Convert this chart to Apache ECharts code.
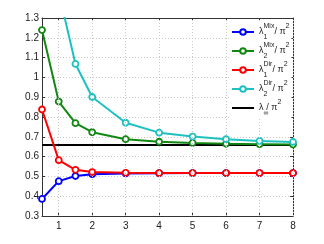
<!DOCTYPE html>
<html><head><meta charset="utf-8">
<script src="https://cdn.jsdelivr.net/npm/echarts@6/dist/echarts.min.js"></script>
<style>html,body{margin:0;padding:0;background:#fff}#c{width:324px;height:244px}</style>
</head><body><div id="c"></div>
<script>
var xValues = [0.5, 1, 1.5, 2, 3, 4, 5, 6, 7, 8];
var lambda1Mix = [0.386, 0.476, 0.502, 0.511, 0.515, 0.516, 0.517, 0.517, 0.517, 0.517];
var lambda2Mix = [1.239, 0.878, 0.769, 0.723, 0.688, 0.675, 0.669, 0.665, 0.663, 0.661];
var lambda1Dir = [0.838, 0.582, 0.533, 0.522, 0.518, 0.517, 0.517, 0.517, 0.517, 0.517];
var lambda2Dir = [2.2, 1.43, 1.068, 0.901, 0.771, 0.721, 0.701, 0.688, 0.679, 0.674];
var lambdaInf = 0.659;
var xTicks = [1, 2, 3, 4, 5, 6, 7, 8];
var seriesNames = ['l1mix', 'l2mix', 'l1dir', 'l2dir', 'linf'];
var legendLabels = {
  l1mix: ['1', 'Mix'],
  l2mix: ['2', 'Mix'],
  l1dir: ['1', 'Dir'],
  l2dir: ['2', 'Dir'],
  linf: ['\u221e', '']
};
var colors = ['#0000ff', '#118811', '#ff0000', '#1fc0c0', '#000000'];

function pairs(ys) { return xValues.map(function (x, i) { return [x, ys[i]]; }); }

var font = 'Liberation Sans';
var chart = echarts.init(document.getElementById('c'), null, {renderer: 'canvas'});
function lineSeries(name, ys, color) {
  return {
    name: name, type: 'line', data: pairs(ys), clip: true,
    symbol: 'circle', symbolSize: 6,
    itemStyle: {color: '#fff', borderColor: color, borderWidth: 1.8},
    lineStyle: {color: color, width: 2},
    color: color, animation: false, z: 3
  };
}
var series = [
  lineSeries('l1mix', lambda1Mix, colors[0]),
  lineSeries('l2mix', lambda2Mix, colors[1]),
  lineSeries('l1dir', lambda1Dir, colors[2]),
  lineSeries('l2dir', lambda2Dir, colors[3]),
  {
    name: 'linf', type: 'line', data: [[0.5, lambdaInf], [8, lambdaInf]],
    symbol: 'none', lineStyle: {color: '#000', width: 2}, color: '#000', animation: false, z: 2,
    markLine: {
      silent: true, symbol: 'none', label: {show: false}, animation: false,
      lineStyle: {color: '#c8c8c8', type: [1, 2], width: 1},
      data: xTicks.map(function (v) { return {xAxis: v}; })
    }
  }
];
var axisLine = {show: true, lineStyle: {color: '#333', width: 1}};
var legendData = seriesNames.map(function (n) {
  return n === 'linf' ? {name: n, itemStyle: {opacity: 0}} : {name: n};
});
chart.setOption({
  animation: false,
  grid: {left: 42, right: 31, top: 18, bottom: 28, containLabel: false},
  xAxis: [{
    type: 'value', min: 0.5, max: 8, position: 'bottom',
    axisLine: axisLine,
    axisTick: {show: true, inside: true, length: 3, lineStyle: {color: '#333'}, customValues: xTicks},
    axisLabel: {customValues: xTicks, fontFamily: font, fontSize: 10, color: '#222', margin: 5},
    splitLine: {show: false}
  }, {
    type: 'value', min: 0.5, max: 8, position: 'top',
    axisLine: axisLine,
    axisTick: {show: true, inside: true, length: 3, lineStyle: {color: '#333'}, customValues: xTicks},
    axisLabel: {show: false, customValues: xTicks},
    splitLine: {show: false}
  }],
  yAxis: [{
    type: 'value', min: 0.3, max: 1.3, interval: 0.1, position: 'left',
    axisLine: axisLine,
    axisTick: {show: true, inside: true, length: 3, lineStyle: {color: '#333'}},
    axisLabel: {fontFamily: font, fontSize: 10, color: '#222', margin: 3,
      formatter: function (v) { return String(Math.round(v * 10) / 10); }},
    splitLine: {show: true, lineStyle: {color: '#c8c8c8', type: [1, 2], width: 1}}
  }, {
    type: 'value', min: 0.3, max: 1.3, interval: 0.1, position: 'right',
    axisLine: axisLine,
    axisTick: {show: true, inside: true, length: 3, lineStyle: {color: '#333'}},
    axisLabel: {show: false},
    splitLine: {show: false}
  }],
  legend: {
    data: legendData, orient: 'vertical', left: 229, top: 21,
    backgroundColor: '#fff', padding: [2, 2, 2, 2], itemGap: 1,
    itemWidth: 22, itemHeight: 7, selectedMode: false, z: 10,
    textStyle: {
      fontFamily: font, color: '#222',
      rich: {
        b: {fontSize: 9, fontFamily: font, lineHeight: 18, color: '#222'},
        sub: {fontSize: 7, fontFamily: font, lineHeight: 8, verticalAlign: 'bottom', width: 0, color: '#222'},
        sup: {fontSize: 7, fontFamily: font, lineHeight: 8, verticalAlign: 'top', color: '#222'}
      }
    },
    formatter: function (name) {
      var p = legendLabels[name];
      return '{b|\u03bb}{sub|' + p[0] + '}' + (p[1] ? '{sup|' + p[1] + '}' : '{sup|\u2009\u2009}') + '{b|/ \u03c0}{sup|2}';
    }
  },
  series: series
});
</script></body></html>
